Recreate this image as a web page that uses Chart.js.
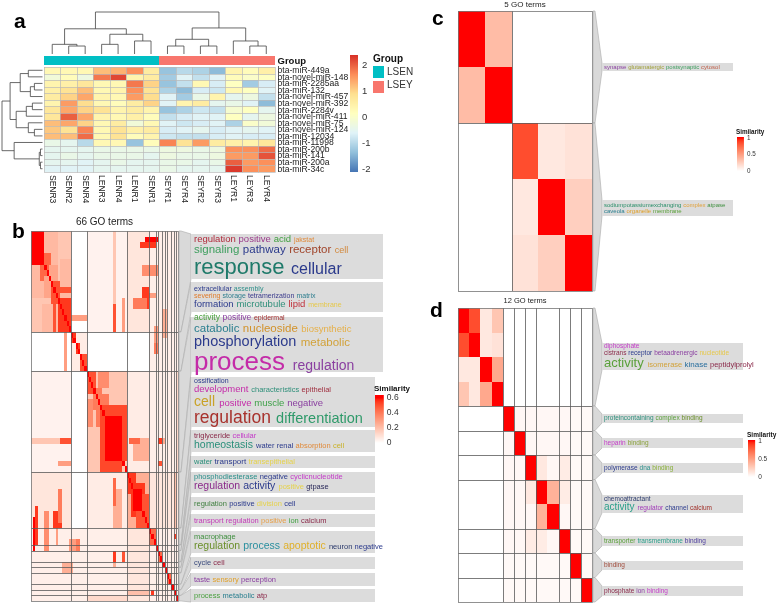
<!DOCTYPE html>
<html>
<head>
<meta charset="utf-8">
<script src="https://cdn.jsdelivr.net/npm/chart.js@4.4.0/dist/chart.umd.min.js"></script>
<style>
  html, body { margin: 0; padding: 0; background: #fff; }
  #wrap { position: relative; width: 777px; height: 604px; overflow: hidden; background: #fff; }
  #wrap canvas { position: absolute; }
</style>
</head>
<body>
<div id="wrap">
  <canvas id="pa" width="420" height="205" style="left:0px;top:0px"></canvas>
  <canvas id="pb" width="420" height="399" style="left:0px;top:205px"></canvas>
  <canvas id="pc" width="387" height="295" style="left:390px;top:0px"></canvas>
  <canvas id="pd" width="387" height="309" style="left:390px;top:295px"></canvas>
</div>
<script>
// ---------------- panel a : miRNA heatmap (row z-scores) ----------------
const aCols = ['SENR3', 'SENR2', 'SENR4', 'LENR3', 'LENR4', 'LENR1', 'SENR1',
               'SEYR1', 'SEYR4', 'SEYR2', 'SEYR3', 'LEYR1', 'LEYR3', 'LEYR4'];
const aGroups = ['LSEN', 'LSEN', 'LSEN', 'LSEN', 'LSEN', 'LSEN', 'LSEN',
                 'LSEY', 'LSEY', 'LSEY', 'LSEY', 'LSEY', 'LSEY', 'LSEY'];
const aRows = ['bta-miR-449a', 'bta-novel-miR-148', 'bta-miR-2285aa', 'bta-miR-132',
               'bta-novel-miR-457', 'bta-novel-miR-392', 'bta-miR-2284v', 'bta-novel-miR-411',
               'bta-novel-miR-75', 'bta-novel-miR-124', 'bta-miR-12034', 'bta-miR-11998',
               'bta-miR-200b', 'bta-miR-141', 'bta-miR-200a', 'bta-miR-34c'];
const aValues = [
  [0.3, 0.3, 0.3, 1.2, 1.3, 1.6, 0.6, -1.3, -1.0, -1.1, -1.4, 0.4, 0.2, 0.5],
  [-0.2, 0.2, -0.3, 1.8, 2.2, 0.4, 0.6, -1.2, -0.6, -0.9, -0.6, 0.2, 0.0, 0.1],
  [0.4, 0.5, 0.7, 0.3, 0.3, 1.8, 1.0, -1.3, -0.9, 0.3, -0.7, 0.1, -1.2, -0.7],
  [0.5, 0.8, 1.2, 0.3, 0.4, 1.6, 0.8, -1.1, -1.4, -0.7, -0.8, 0.3, 0.1, -0.6],
  [0.6, 1.0, 1.4, 0.4, 0.3, 1.5, 0.9, -0.6, -1.2, -0.4, 0.4, -0.5, -0.3, -0.9],
  [0.4, 1.5, 0.9, 0.3, 0.2, 0.6, 1.0, -0.6, 0.4, 0.6, -0.5, -0.4, -0.6, -1.4],
  [0.7, 1.4, 1.0, 0.8, 0.4, 0.6, 0.4, -1.3, -1.1, -0.8, -0.9, -0.1, 0.1, -0.5],
  [0.7, 2.0, 1.4, 0.4, 0.3, 0.5, 0.2, -0.9, -0.7, -0.6, -0.6, 0.1, -0.5, -0.3],
  [1.2, 1.4, 1.0, 0.3, 0.6, -0.2, 0.3, -0.6, -0.8, -0.7, -0.6, -1.1, 0.0, -0.2],
  [1.1, 0.8, 1.7, 0.3, 0.8, 0.5, 0.6, -0.7, -0.6, -0.5, -0.7, -0.6, -0.5, -0.6],
  [1.2, 1.2, 1.9, 0.3, 0.8, 0.2, 0.4, -0.8, -0.9, -0.9, -0.7, -0.6, -0.7, -0.7],
  [-0.4, -0.5, -1.0, 0.3, 0.3, -1.3, 0.2, 1.7, 0.8, 1.5, 0.6, 0.5, 0.4, 0.7],
  [-0.5, -0.5, -0.5, -0.4, -0.4, -0.4, -0.4, -0.3, -0.3, -0.4, -0.3, 1.6, 1.6, 1.9],
  [-0.5, -0.4, -0.5, -0.4, -0.4, -0.4, -0.5, -0.3, -0.4, -0.4, -0.3, 1.5, 1.5, 2.1],
  [-0.5, -0.5, -0.6, -0.5, -0.4, -0.5, -0.5, -0.4, -0.4, -0.5, -0.4, 2.0, 1.5, 1.6],
  [-0.6, -0.6, -0.6, -0.5, -0.5, -0.5, -0.5, -0.4, -0.5, -0.5, -0.5, 2.3, 1.6, 1.5]
];
// dendrograms: [left, right, height], leaves are indices in display order
const aColTree = [[[0, [1, 2, 0.19], 0.23], [[3, 4, 0.23], [5, 6, 0.31], 0.47], 0.6],
                  [[[7, 8, 0.19], [9, 10, 0.19], 0.35], [11, [12, 13, 0.19], 0.31], 0.62], 1];
const aRowTree = [[[[0, 1, 0.35], [[2, 3, 0.2], 4, 0.3], 0.55],
                   [[[5, 6, 0.25], 7, 0.4], [8, [9, 10, 0.2], 0.35], 0.65], 0.8],
                  [11, [[12, 13, 0.05], [14, 15, 0.05], 0.08], 0.7], 1];
const aLegendTicks = [2, 1, 0, -1, -2];
const aGroupNames = ['LSEN', 'LSEY'];

// ---------------- panel b : 66 GO terms similarity ----------------
const bClusters = [18, 7, 18, 10, 3, 1, 2, 1, 1, 2, 1, 1, 1];
// [row0, row1, col0, col1, similarity] blocks (symmetric)
const bPatches = [
  [0, 17, 25, 42, 0.04], [0, 17, 43, 52, 0.08], [0, 65, 53, 65, 0.05],
  [25, 42, 0, 17, 0.04], [25, 42, 43, 52, 0.05], [43, 52, 0, 17, 0.08], [43, 52, 25, 42, 0.06],
  [0, 17, 0, 17, 0.12], [6, 17, 0, 9, 0.18], [0, 5, 0, 5, 0.62], [0, 5, 6, 11, 0.22],
  [6, 8, 4, 8, 0.45], [8, 11, 6, 8, 0.28], [9, 12, 9, 12, 0.5], [13, 17, 5, 11, 0.22],
  [12, 17, 12, 17, 0.55], [13, 17, 10, 10, 0.5],
  [13, 16, 37, 37, 0.45], [9, 12, 37, 37, 0.3], [1, 1, 51, 56, 0.6], [6, 7, 50, 56, 0.35],
  [10, 13, 50, 52, 0.55], [15, 15, 18, 24, 0.35],
  [18, 24, 18, 24, 0.06], [18, 24, 15, 15, 0.3], [18, 19, 18, 19, 0.55], [20, 21, 20, 21, 0.55],
  [22, 24, 22, 24, 0.5], [18, 21, 55, 56, 0.4],
  [25, 42, 25, 42, 0.18], [25, 28, 25, 28, 0.5], [29, 31, 28, 34, 0.4], [30, 34, 25, 27, 0.35],
  [31, 42, 31, 40, 0.52], [33, 40, 33, 39, 0.63], [37, 37, 0, 12, 0.18], [37, 37, 13, 17, 0.5],
  [41, 41, 12, 17, 0.3], [37, 40, 46, 52, 0.25], [37, 37, 57, 59, 0.55], [41, 41, 58, 58, 0.55],
  [43, 52, 43, 52, 0.25], [43, 45, 43, 46, 0.55], [45, 50, 45, 50, 0.55], [47, 52, 47, 52, 0.5],
  [46, 49, 46, 48, 0.63], [49, 52, 2, 2, 0.55], [46, 51, 12, 13, 0.4], [44, 48, 37, 37, 0.45],
  [43, 52, 53, 65, 0.08],
  [53, 55, 53, 55, 0.45], [53, 55, 2, 2, 0.55], [53, 55, 11, 11, 0.3], [55, 56, 17, 19, 0.3],
  [57, 58, 37, 37, 0.55], [57, 58, 41, 41, 0.5], [59, 60, 14, 18, 0.25], [59, 59, 37, 37, 0.25],
  [57, 58, 57, 58, 0.45], [61, 62, 61, 62, 0.45], [64, 64, 43, 52, 0.2], [64, 64, 54, 54, 0.55],
  [65, 65, 25, 42, 0.12]
];
const bLegendTicks = [0.6, 0.4, 0.2, 0];
const bClouds = [
  [[['regulation', 9.5, '#b02a3a'], ['positive', 9.5, '#9a3a8a'], ['acid', 9.5, '#3f9f3f'], ['jakstat', 7, '#e08a3a']],
   [['signaling', 11.5, '#3f9f5f'], ['pathway', 11.5, '#2b3a8c'], ['receptor', 11.5, '#a0442a'], ['cell', 9, '#d2873a']],
   [['response', 22, '#1f7a6a'], ['cellular', 16, '#2b3a8c']]],
  [[['extracellular', 7, '#2b3a8c'], ['assembly', 7, '#2f8f8a']],
   [['severing', 7, '#e07b2a'], ['storage', 7, '#2f7f8f'], ['tetramerization', 7, '#3a3a8c'], ['matrix', 7, '#2f7f8f']],
   [['formation', 9.5, '#2b3a8c'], ['microtubule', 9.5, '#2f8f7a'], ['lipid', 9.5, '#c0303a'], ['membrane', 7, '#e6c84a']]],
  [[['activity', 8.5, '#4aa03f'], ['positive', 8.5, '#8a3fa0'], ['epidermal', 7, '#a03030']],
   [['catabolic', 11.5, '#2a7f8f'], ['nucleoside', 11.5, '#d2922a'], ['biosynthetic', 9.5, '#e6b04a']],
   [['phosphorylation', 14.5, '#2b3a8c'], ['metabolic', 11.5, '#d2a23a']],
   [['process', 26, '#c42ba8'], ['regulation', 14, '#8a3fa0']]],
  [[['ossification', 7, '#2b3a8c']],
   [['development', 9.5, '#c42ba8'], ['characteristics', 7.5, '#2f8f7a'], ['epithelial', 7.5, '#a03040']],
   [['cell', 14, '#c9a227'], ['positive', 9.5, '#c42ba8'], ['muscle', 9.5, '#3fa049'], ['negative', 9.5, '#8a3fa0']],
   [['regulation', 17.5, '#a8322d'], ['differentiation', 14.5, '#2f9a6a']]],
  [[['triglyceride', 7.5, '#8a2a4a'], ['cellular', 7.5, '#c43ac8']],
   [['homeostasis', 10.5, '#2a8f7a'], ['water', 7.5, '#2b3a8c'], ['renal', 7.5, '#2b3a8c'], ['absorption', 7.5, '#e08a3a'], ['cell', 7.5, '#c9b22a']]],
  [[['water', 7.5, '#2a8f7a'], ['transport', 8, '#2b3a8c'], ['transepithelial', 7.5, '#e6d24a']]],
  [[['phosphodiesterase', 7.5, '#2a8f8a'], ['negative', 7.5, '#2b3a8c'], ['cyclicnucleotide', 7.5, '#c43ac8']],
   [['regulation', 10.5, '#8a2a8a'], ['activity', 10.5, '#2b3a8c'], ['positive', 7.5, '#e6d24a'], ['gtpase', 7.5, '#2b2a5a']]],
  [[['regulation', 7.5, '#3f7f3f'], ['positive', 7.5, '#2b3a8c'], ['division', 7.5, '#e6d24a'], ['cell', 7.5, '#2b3a8c']]],
  [[['transport', 7.5, '#c43ab8'], ['regulation', 7.5, '#c43ab8'], ['positive', 7.5, '#e6a04a'], ['ion', 7.5, '#3f9f3f'], ['calcium', 7.5, '#8a2a4a']]],
  [[['macrophage', 7.5, '#3f8f3f']],
   [['regulation', 10.5, '#6a8f2a'], ['process', 10.5, '#2a8f9f'], ['apoptotic', 10.5, '#e0b02a'], ['neuron', 7.5, '#2b3a6c'], ['negative', 7.5, '#2b3a8c']]],
  [[['cycle', 7.5, '#3a4a7c'], ['cell', 7.5, '#8a2a4a']]],
  [[['taste', 7.5, '#8a3fa0'], ['sensory', 7.5, '#e0a02a'], ['perception', 7.5, '#8a3fa0']]],
  [[['process', 7.5, '#4aa03f'], ['metabolic', 7.5, '#2a7f8f'], ['atp', 7.5, '#8a2a4a']]]
];

// ---------------- panel c : 5 GO terms ----------------
const cClusters = [2, 3];
const cSim = [
  [1, 0.35, 0, 0, 0],
  [0.35, 1, 0, 0, 0],
  [0, 0, 0.85, 0.12, 0.15],
  [0, 0, 0.12, 1, 0.25],
  [0, 0, 0.15, 0.25, 1]
];
const cClouds = [
  [[['synapse', 6, '#8a3fa0'], ['glutamatergic', 6, '#a0a03a'], ['postsynaptic', 6, '#3f9f5f'], ['cytosol', 6, '#c0604a']]],
  [[['sodiumpotassiumexchanging', 6, '#2a8f6a'], ['complex', 6, '#e0a03a'], ['atpase', 6, '#3f8f3f']],
   [['caveola', 6, '#2a7f8f'], ['organelle', 6, '#e0a02a'], ['membrane', 6, '#5aa03a']]]
];

// ---------------- panel d : 12 GO terms ----------------
const dClusters = [4, 1, 1, 1, 2, 1, 1, 1];
const dSim = [
  [1, 0.85, 0.12, 0.3, 0, 0, 0, 0, 0, 0, 0, 0],
  [0.85, 1, 0.12, 0.15, 0, 0, 0, 0, 0, 0, 0, 0],
  [0.12, 0.12, 1, 0.45, 0, 0, 0, 0, 0, 0, 0, 0],
  [0.3, 0.12, 0.45, 1, 0, 0, 0, 0, 0, 0, 0, 0],
  [0, 0, 0, 0, 1, 0.04, 0.04, 0.04, 0.04, 0.04, 0.03, 0.03],
  [0, 0, 0, 0, 0.04, 1, 0.04, 0.04, 0.04, 0.04, 0.03, 0.03],
  [0, 0, 0, 0, 0.04, 0.04, 1, 0.12, 0.04, 0.1, 0.03, 0.03],
  [0, 0, 0, 0, 0.04, 0.04, 0.12, 1, 0.4, 0.1, 0.03, 0.03],
  [0, 0, 0, 0, 0.04, 0.04, 0.04, 0.4, 1, 0.04, 0.03, 0.03],
  [0, 0, 0, 0, 0.04, 0.04, 0.1, 0.1, 0.04, 1, 0.03, 0.03],
  [0, 0, 0, 0, 0.03, 0.03, 0.03, 0.03, 0.03, 0.03, 1, 0.03],
  [0, 0, 0, 0, 0.03, 0.03, 0.03, 0.03, 0.03, 0.03, 0.03, 1]
];
const dClouds = [
  [[['diphosphate', 6.5, '#c43ac8']],
   [['cistrans', 6.5, '#8a2a4a'], ['receptor', 6.5, '#2b3a8c'], ['betaadrenergic', 6.5, '#8a3fa0'], ['nucleotide', 6.5, '#e6c84a']],
   [['activity', 13, '#5aa03a'], ['isomerase', 7.5, '#d2a23a'], ['kinase', 8, '#2a6f9f'], ['peptidylprolyl', 7.5, '#8a2a4a']]],
  [[['proteincontaining', 6.5, '#2a8f7a'], ['complex', 6.5, '#5aa03a'], ['binding', 6.5, '#6a8f2a']]],
  [[['heparin', 6.5, '#c43ac8'], ['binding', 6.5, '#8aa03a']]],
  [[['polymerase', 6.5, '#2b3a8c'], ['dna', 6.5, '#2a8f8a'], ['binding', 6.5, '#8ab03a']]],
  [[['chemoattractant', 6.5, '#2b3a6c']],
   [['activity', 10, '#2a9f8a'], ['regulator', 6.5, '#a03ab8'], ['channel', 6.5, '#2b3a8c'], ['calcium', 6.5, '#a0302a']]],
  [[['transporter', 6.5, '#5aa03a'], ['transmembrane', 6.5, '#2a9f8a'], ['binding', 6.5, '#4a3a9c']]],
  [[['binding', 6.5, '#a04a3a']]],
  [[['phosphate', 6.5, '#8a2a4a'], ['ion', 6.5, '#8a3fa0'], ['binding', 6.5, '#c43ac8']]]
];
const simLegendTicks = [1, 0.5, 0];

// ---------------- helpers ----------------
const FONT = '"Liberation Sans", Arial, Helvetica, sans-serif';
function font(size, bold) { return (bold ? 'bold ' : '') + size + 'px ' + FONT; }

function hexRgb(h) { return [1, 3, 5].map(i => parseInt(h.substr(i, 2), 16)); }
const rdylbu = ['#4575B4', '#91BFDB', '#E0F3F8', '#FFFFBF', '#FEE090', '#FC8D59', '#D73027'].map(hexRgb);
const zMin = -2.12, zMax = 2.38;
function zColor(v) {
  let t = (v - zMin) / (zMax - zMin) * 6;
  t = Math.max(0, Math.min(6, t));
  const i = Math.min(5, Math.floor(t)), f = t - i;
  const a = rdylbu[i], b = rdylbu[i + 1];
  return 'rgb(' + a.map((c, k) => Math.round(c + (b[k] - c) * f)).join(',') + ')';
}
// white -> red interpolated in Lab space
function labToRgb(L, A, B) {
  let y = (L + 16) / 116, x = A / 500 + y, z = y - B / 200;
  const f = t => (t * t * t > 0.008856 ? t * t * t : (t - 16 / 116) / 7.787);
  x = 0.95047 * f(x); y = f(y); z = 1.08883 * f(z);
  const r = x * 3.2406 - y * 1.5372 - z * 0.4986;
  const g = -x * 0.9689 + y * 1.8758 + z * 0.0415;
  const b = x * 0.0557 - y * 0.2040 + z * 1.0570;
  const gam = c => (c > 0.0031308 ? 1.055 * Math.pow(c, 1 / 2.4) - 0.055 : 12.92 * c);
  return [r, g, b].map(c => Math.round(Math.max(0, Math.min(1, gam(c))) * 255));
}
function simColor(v, top) {
  const t = Math.max(0, Math.min(1, v / top));
  const rgb = labToRgb(100 + (53.24 - 100) * t, 80.09 * t, 67.2 * t);
  return 'rgb(' + rgb.join(',') + ')';
}

function toPoints(mat) {
  const pts = [];
  mat.forEach((row, r) => row.forEach((v, c) => pts.push({x: c + 0.5, y: r + 0.5, v: v})));
  return pts;
}

function drawCells(chart, colorFn, stroke) {
  const {ctx, scales: {x, y}} = chart;
  chart.data.datasets[0].data.forEach(p => {
    const x0 = Math.round(x.getPixelForValue(p.x - 0.5)), x1 = Math.round(x.getPixelForValue(p.x + 0.5));
    const y0 = Math.round(y.getPixelForValue(p.y - 0.5)), y1 = Math.round(y.getPixelForValue(p.y + 0.5));
    ctx.fillStyle = colorFn(p.v);
    ctx.fillRect(x0, y0, x1 - x0, y1 - y0);
    if (stroke) {
      ctx.strokeStyle = stroke; ctx.lineWidth = 0.7;
      ctx.strokeRect(x0 + 0.5, y0 + 0.5, x1 - x0, y1 - y0);
    }
  });
}

function drawClusterLines(chart, sizes) {
  const {ctx, chartArea: ca, scales: {x, y}} = chart;
  ctx.strokeStyle = '#5a5a5a'; ctx.lineWidth = 0.8;
  let acc = 0;
  sizes.forEach(n => {
    acc += n;
    if (acc >= x.max) return;
    const px = Math.round(x.getPixelForValue(acc)) + 0.5, py = Math.round(y.getPixelForValue(acc)) + 0.5;
    ctx.beginPath(); ctx.moveTo(px, ca.top); ctx.lineTo(px, ca.bottom); ctx.stroke();
    ctx.beginPath(); ctx.moveTo(ca.left, py); ctx.lineTo(ca.right, py); ctx.stroke();
  });
  ctx.strokeStyle = '#777';
  ctx.strokeRect(Math.round(ca.left) + 0.5, Math.round(ca.top) + 0.5, Math.round(ca.width), Math.round(ca.height));
}

function drawCloud(ctx, left, right, top, bottom, lines, pad) {
  ctx.fillStyle = '#dcdcdc';
  ctx.fillRect(left, top, right - left, bottom - top);
  const lh = lines.map(l => Math.max(...l.map(w => w[1])));
  const total = lh.reduce((a, b) => a + b * 1.02, 0);
  let yy = (top + bottom) / 2 - total / 2;
  ctx.textAlign = 'left'; ctx.textBaseline = 'alphabetic';
  lines.forEach((line, i) => {
    yy += lh[i] * 0.8;
    let xx = left + pad;
    line.forEach(([w, s, c]) => {
      ctx.font = font(s);
      ctx.fillStyle = c;
      ctx.fillText(w, xx, yy);
      xx += ctx.measureText(w).width + s * 0.3;
    });
    yy += lh[i] * 0.22;
  });
}

function drawLink(ctx, x0, ya, yb, x1, ta, tb) {
  ctx.beginPath();
  ctx.moveTo(x0, ya); ctx.lineTo(x0 + 2, ya); ctx.lineTo(x1, ta); ctx.lineTo(x1, tb);
  ctx.lineTo(x0 + 2, yb); ctx.lineTo(x0, yb); ctx.closePath();
  ctx.fillStyle = '#d9d9d9'; ctx.fill();
  ctx.strokeStyle = '#a9a9a9'; ctx.lineWidth = 0.6; ctx.stroke();
}

function drawSimLegend(ctx, left, title, titleSize, barTop, barBottom, vTop, zeroY, unitPx, ticks, tickSize, top) {
  ctx.font = font(titleSize, true); ctx.fillStyle = '#111';
  ctx.textAlign = 'left'; ctx.textBaseline = 'middle';
  ctx.fillText(title, left, barTop - titleSize * 0.75);
  for (let py = barTop; py < barBottom; py++) {
    ctx.fillStyle = simColor((zeroY - py - 0.5) / unitPx, top);
    ctx.fillRect(left + 1, py, titleSize * 1.1, 1);
  }
  ctx.font = font(tickSize); ctx.fillStyle = '#333';
  ticks.forEach(v => ctx.fillText(String(v), left + titleSize * 1.1 + 4, zeroY - v * unitPx));
}

function clusterRanges(sizes) {
  const out = []; let acc = 0;
  sizes.forEach(n => { out.push([acc, acc + n]); acc += n; });
  return out;
}

function heatChart(id, points, nCols, nRows, padding, plugin) {
  return new Chart(document.getElementById(id), {
    type: 'scatter',
    data: {datasets: [{data: points, pointRadius: 0, pointHoverRadius: 0}]},
    options: {
      responsive: false, animation: false, events: [],
      layout: {padding: padding},
      plugins: {legend: {display: false}, tooltip: {enabled: false}, title: {display: false}},
      scales: {
        x: {type: 'linear', min: 0, max: nCols, display: false},
        y: {type: 'linear', min: 0, max: nRows, reverse: true, display: false}
      }
    },
    plugins: [plugin]
  });
}

// ---------------- panel a ----------------
const groupColors = {LSEN: '#00BFC4', LSEY: '#F8766D'};

function treeWalk(node, leafPos, cb) {
  if (typeof node === 'number') return [leafPos(node), 0];
  const l = treeWalk(node[0], leafPos, cb), r = treeWalk(node[1], leafPos, cb);
  cb(l, r, node[2]);
  return [(l[0] + r[0]) / 2, node[2]];
}

heatChart('pa', toPoints(aValues), aCols.length, aRows.length, {left: 44, top: 67, right: 145.5, bottom: 33}, {
  id: 'panelA',
  beforeDatasetsDraw(chart) {
    const {ctx, chartArea: ca, scales: {x, y}} = chart;
    ctx.save();
    drawCells(chart, zColor, '#b9b9b9');

    // group annotation bar
    aGroups.forEach((g, c) => {
      const x0 = Math.round(x.getPixelForValue(c)), x1 = Math.round(x.getPixelForValue(c + 1));
      ctx.fillStyle = groupColors[g];
      ctx.fillRect(x0, ca.top - 11, x1 - x0, 9);
    });
    ctx.font = font(9.5, true); ctx.fillStyle = '#111';
    ctx.textAlign = 'left'; ctx.textBaseline = 'middle';
    ctx.fillText('Group', ca.right + 3, ca.top - 6);

    // row labels
    ctx.font = font(8.6); ctx.fillStyle = '#222';
    aRows.forEach((lab, r) => ctx.fillText(lab, ca.right + 3, y.getPixelForValue(r + 0.5) + 0.5));
    // column labels, rotated
    ctx.font = font(8.5);
    aCols.forEach((lab, c) => {
      ctx.save();
      ctx.translate(x.getPixelForValue(c + 0.5), ca.bottom + 3);
      ctx.rotate(Math.PI / 2);
      ctx.fillText(lab, 0, 0);
      ctx.restore();
    });

    // dendrograms
    ctx.strokeStyle = '#444'; ctx.lineWidth = 0.8;
    const colBase = ca.top - 13, colTop = 12;
    const hy = h => colBase - h * (colBase - colTop);
    treeWalk(aColTree, i => x.getPixelForValue(i + 0.5), (l, r, h) => {
      ctx.beginPath();
      ctx.moveTo(l[0], hy(l[1])); ctx.lineTo(l[0], hy(h)); ctx.lineTo(r[0], hy(h)); ctx.lineTo(r[0], hy(r[1]));
      ctx.stroke();
    });
    const rowBase = ca.left - 1.5, rowTip = 2;
    const hx = h => rowBase - h * (rowBase - rowTip);
    treeWalk(aRowTree, i => y.getPixelForValue(i + 0.5), (l, r, h) => {
      ctx.beginPath();
      ctx.moveTo(hx(l[1]), l[0]); ctx.lineTo(hx(h), l[0]); ctx.lineTo(hx(h), r[0]); ctx.lineTo(hx(r[1]), r[0]);
      ctx.stroke();
    });

    // colour key
    const kTop = 55, kBot = 172, kLeft = 350;
    for (let py = kTop; py < kBot; py++) {
      ctx.fillStyle = zColor(zMax - (py + 0.5 - kTop) / (kBot - kTop) * (zMax - zMin));
      ctx.fillRect(kLeft, py, 8, 1);
    }
    ctx.font = font(9.5); ctx.fillStyle = '#333';
    aLegendTicks.forEach(v => {
      ctx.fillText(String(v), kLeft + 12, kTop + (zMax - v) / (zMax - zMin) * (kBot - kTop));
    });

    // group legend
    ctx.font = font(10, true); ctx.fillStyle = '#111';
    ctx.fillText('Group', 373, 59);
    aGroupNames.forEach((g, i) => {
      ctx.fillStyle = groupColors[g];
      ctx.fillRect(373, 66 + i * 15, 11, 12);
      ctx.font = font(10); ctx.fillStyle = '#333';
      ctx.fillText(g, 387, 72 + i * 13);
    });

    // panel letter
    ctx.font = font(21, true); ctx.fillStyle = '#000'; ctx.textBaseline = 'alphabetic';
    ctx.fillText('a', 14, 28);
    ctx.restore();
  }
});

// ---------------- panel b ----------------
const bMat = Array.from({length: 66}, () => new Array(66).fill(0));
bPatches.forEach(([r0, r1, c0, c1, v]) => {
  for (let r = r0; r <= r1; r++) for (let c = c0; c <= c1; c++) { bMat[r][c] = v; bMat[c][r] = v; }
});
for (let i = 0; i < 66; i++) bMat[i][i] = 0.65;

const bBoxes = [[29, 74, 383], [77, 107, 383], [112, 167, 383], [172, 222, 375], [225, 247, 375],
                [251, 263, 375], [267, 288, 375], [292, 305, 375], [309, 322, 375], [326, 348, 375],
                [352, 364, 375], [368, 381, 375], [384, 397, 375]];

heatChart('pb', toPoints(bMat), 66, 66, {left: 31, top: 26, right: 242, bottom: 3}, {
  id: 'panelB',
  beforeDatasetsDraw(chart) {
    const {ctx, chartArea: ca, scales: {y}} = chart;
    ctx.save();
    drawCells(chart, v => simColor(v, 0.6), null);
    drawClusterLines(chart, bClusters);

    clusterRanges(bClusters).forEach(([s, e], i) => {
      const [bt, bb, br] = bBoxes[i];
      drawLink(ctx, ca.right + 1, y.getPixelForValue(s), y.getPixelForValue(e), 191, bt, bb);
      drawCloud(ctx, 191, br, bt, bb, bClouds[i], 3);
    });

    ctx.font = font(10); ctx.fillStyle = '#222'; ctx.textAlign = 'center'; ctx.textBaseline = 'middle';
    ctx.fillText('66 GO terms', (ca.left + ca.right) / 2, ca.top - 9);
    ctx.textAlign = 'left';
    drawSimLegend(ctx, 374, 'Similarity', 8, 190, 240, 0.64, 238, 75, bLegendTicks, 8.5, 0.6);

    ctx.font = font(21, true); ctx.fillStyle = '#000'; ctx.textBaseline = 'alphabetic';
    ctx.fillText('b', 12, 33);
    ctx.restore();
  }
});

// ---------------- panel c ----------------
const cBoxes = [[63, 71], [200, 216]];
heatChart('pc', toPoints(cSim), 5, 5, {left: 68, top: 11, right: 185, bottom: 4}, {
  id: 'panelC',
  beforeDatasetsDraw(chart) {
    const {ctx, chartArea: ca, scales: {y}} = chart;
    ctx.save();
    drawCells(chart, v => simColor(v, 1), null);
    drawClusterLines(chart, cClusters);
    clusterRanges(cClusters).forEach(([s, e], i) => {
      const [bt, bb] = cBoxes[i];
      drawLink(ctx, ca.right + 1, y.getPixelForValue(s), y.getPixelForValue(e), 212, bt, bb);
      drawCloud(ctx, 212, 343, bt, bb, cClouds[i], 2);
    });
    ctx.font = font(8); ctx.fillStyle = '#222'; ctx.textAlign = 'center'; ctx.textBaseline = 'middle';
    ctx.fillText('5 GO terms', (ca.left + ca.right) / 2, 5);
    ctx.textAlign = 'left';
    drawSimLegend(ctx, 346, 'Similarity', 6.3, 137, 171, 1, 171, 33, simLegendTicks, 6.3, 1);
    ctx.font = font(21, true); ctx.fillStyle = '#000'; ctx.textBaseline = 'alphabetic';
    ctx.fillText('c', 42, 25);
    ctx.restore();
  }
});

// ---------------- panel d ----------------
const dBoxes = [[48, 75], [119, 128], [143, 153], [168, 178], [200, 218], [241, 251], [266, 275], [291, 301]];
heatChart('pd', toPoints(dSim), 12, 12, {left: 68, top: 13, right: 185, bottom: 2}, {
  id: 'panelD',
  beforeDatasetsDraw(chart) {
    const {ctx, chartArea: ca, scales: {y}} = chart;
    ctx.save();
    drawCells(chart, v => simColor(v, 1), null);
    drawClusterLines(chart, dClusters);
    clusterRanges(dClusters).forEach(([s, e], i) => {
      const [bt, bb] = dBoxes[i];
      drawLink(ctx, ca.right + 1, y.getPixelForValue(s), y.getPixelForValue(e), 212, bt, bb);
      drawCloud(ctx, 212, 353, bt, bb, dClouds[i], 2);
    });
    ctx.font = font(7.5); ctx.fillStyle = '#222'; ctx.textAlign = 'center'; ctx.textBaseline = 'middle';
    ctx.fillText('12 GO terms', (ca.left + ca.right) / 2, 6);
    ctx.textAlign = 'left';
    drawSimLegend(ctx, 357, 'Similarity', 6.5, 145, 182, 1, 182, 36, simLegendTicks, 6.5, 1);
    ctx.font = font(21, true); ctx.fillStyle = '#000'; ctx.textBaseline = 'alphabetic';
    ctx.fillText('d', 40, 22);
    ctx.restore();
  }
});
</script>
</body>
</html>
